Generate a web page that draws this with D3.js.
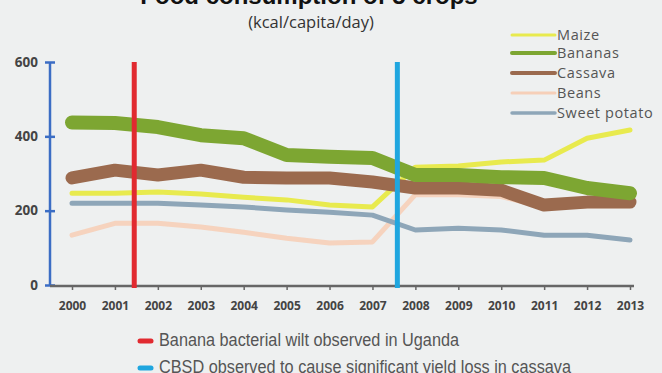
<!DOCTYPE html>
<html><head><meta charset="utf-8">
<script src="https://cdn.jsdelivr.net/npm/d3@7"></script>
<style>html,body{margin:0;padding:0;background:#eef0f0;}svg{display:block;}</style>
</head><body><svg id="c" width="662" height="373"></svg>
<script>
const years = [2000,2001,2002,2003,2004,2005,2006,2007,2008,2009,2010,2011,2012,2013];
const maize   = [247,247,250,245,236,229,215,210,317,320,331,336,395,417];
const bananas = [437,436,425,403,395,350,345,342,296,296,290,288,261,247];
const cassava = [288,309,296,309,290,288,288,277,261,261,255,215,223,223];
const beans   = [134,166,166,156,142,126,113,116,243,243,238,210,213,213];
const sweetPotato = [220,220,220,215,210,202,196,188,148,153,148,134,134,121];
const yTicks = [0,200,400,600];
const seriesNames = ["Maize","Bananas","Cassava","Beans","Sweet potato"];
const events = [{year:2001.45, label:"Banana bacterial wilt observed in Uganda"},
                {year:2007.58, label:"CBSD observed to cause significant yield loss in cassava"}];

const svg = d3.select("#c");
const x = d3.scaleLinear().domain([2000,2013]).range([72,630]);
const y = d3.scaleLinear().domain([0,600]).range([285,62]);

svg.append("rect").attr("width",662).attr("height",373).attr("fill","#eef0f0");

// title
svg.append("text").attr("x",309).attr("y",4).attr("text-anchor","middle")
  .attr("font-family","Liberation Sans, Arial").attr("font-weight","bold").attr("font-size",24)
  .attr("fill","#111").text("Food consumption of 5 crops");
svg.append("text").attr("x",311).attr("y",28).attr("text-anchor","middle")
  .attr("font-family","Open Sans, sans-serif").attr("font-size",16.5)
  .attr("fill","#333").text("(kcal/capita/day)");

// axes
const yAxis = d3.axisLeft(y).tickValues(yTicks).tickSize(5).tickPadding(7);
const gy = svg.append("g").attr("transform","translate(50,0)").call(yAxis);
gy.select(".domain").attr("stroke","#3b6dc4").attr("stroke-width",2.5).attr("d","M0,62V285");
gy.selectAll(".tick line").attr("stroke","#3b6dc4").attr("stroke-width",2.5).attr("x2",5).attr("x1",-5);
gy.selectAll(".tick text").attr("font-family","Open Sans, sans-serif").attr("font-size",13.5)
  .attr("font-weight","bold").attr("fill","#444");

const xAxis = d3.axisBottom(x).tickValues(years).tickFormat(d3.format("d")).tickSize(4).tickPadding(11);
const gx = svg.append("g").attr("transform","translate(0,286)").call(xAxis);
gx.select(".domain").attr("stroke","#666").attr("stroke-width",2.5).attr("d","M50,0H634");
gx.selectAll(".tick line").attr("stroke","#666").attr("stroke-width",1.5);
gx.selectAll(".tick text").attr("font-family","Open Sans, sans-serif").attr("font-size",12)
  .attr("font-weight","bold").attr("fill","#444");

// series
const series = [
  {name:"Beans", vals:beans, color:"#f6cfb8", w:5, op:0.9},
  {name:"Sweet potato", vals:sweetPotato, color:"#8ea6b8", w:5, op:1},
  {name:"Maize", vals:maize, color:"#e8ea4e", w:5, op:1},
  {name:"Cassava", vals:cassava, color:"#9b6a4e", w:13, op:1},
  {name:"Bananas", vals:bananas, color:"#7da632", w:14, op:1}
];
const line = d3.line().x((d,i)=>x(years[i])).y(d=>y(d));
svg.append("g").selectAll("path").data(series).join("path")
  .attr("d",d=>line(d.vals)).attr("fill","none").attr("stroke",d=>d.color)
  .attr("stroke-width",d=>d.w).attr("stroke-opacity",d=>d.op)
  .attr("stroke-linejoin","round").attr("stroke-linecap","round");

// event lines
const evColors = ["#e12a30","#1fa6df"];
svg.append("g").selectAll("line").data(events).join("line")
  .attr("x1",d=>x(d.year)).attr("x2",d=>x(d.year)).attr("y1",y(600)).attr("y2",288)
  .attr("stroke",(d,i)=>evColors[i]).attr("stroke-width",5);

// legend
const legColors = {"Maize":"#e8ea4e","Bananas":"#7da632","Cassava":"#9b6a4e","Beans":"#f6cfb8","Sweet potato":"#8ea6b8"};
const legW = {"Maize":3,"Bananas":4,"Cassava":4,"Beans":3,"Sweet potato":3.5};
const legY = [35,53,73,93,113];
const lg = svg.append("g");
seriesNames.forEach((n,i)=>{
  lg.append("line").attr("x1",512).attr("x2",555).attr("y1",legY[i]).attr("y2",legY[i])
    .attr("stroke",legColors[n]).attr("stroke-width",legW[n]).attr("stroke-linecap","round");
  lg.append("text").attr("x",557).attr("y",legY[i]+5).attr("font-family","Open Sans, sans-serif")
    .attr("font-size",14.5).attr("letter-spacing",0.6).attr("fill","#555").text(n);
});

// event legend
const eg = svg.append("g");
const evTextW = [300, 412];
events.forEach((e,i)=>{
  const yy = [340,367][i];
  eg.append("line").attr("x1",140).attr("x2",151).attr("y1",yy+1).attr("y2",yy+1)
    .attr("stroke",evColors[i]).attr("stroke-width",5).attr("stroke-linecap","round");
  eg.append("text").attr("x",159).attr("y",yy+6).attr("font-family","Liberation Sans Narrow, Arial Narrow, sans-serif")
    .attr("font-size",17.5).attr("fill","#555")
    .attr("textLength",evTextW[i]).attr("lengthAdjust","spacingAndGlyphs").text(e.label);
});
</script></body></html>
